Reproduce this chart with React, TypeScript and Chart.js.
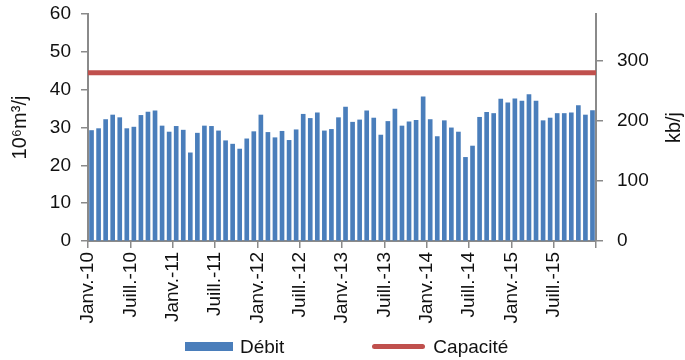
import React, { useEffect, useRef } from "react";
import { Chart, registerables } from "chart.js";

Chart.register(...registerables);

const tickLabels = [
  "Janv.-10", "Juill.-10", "Janv.-11", "Juill.-11", "Janv.-12", "Juill.-12",
  "Janv.-13", "Juill.-13", "Janv.-14", "Juill.-14", "Janv.-15", "Juill.-15",
];

const debit2010 = [29.2, 29.7, 32.1, 33.3, 32.6, 29.7, 30.1, 33.2, 34.1, 34.4, 30.4, 28.8];
const debit2011 = [30.3, 29.3, 23.3, 28.5, 30.4, 30.3, 29.1, 26.5, 25.6, 24.3, 27.0, 28.9];
const debit2012 = [33.3, 28.7, 27.3, 29.0, 26.6, 29.4, 33.5, 32.4, 33.9, 29.1, 29.5, 32.6];
const debit2013 = [35.4, 31.4, 32.0, 34.4, 32.5, 28.0, 31.6, 34.9, 30.4, 31.5, 31.9, 38.1];
const debit2014 = [32.1, 27.6, 31.8, 29.9, 28.8, 22.1, 25.1, 32.7, 34.0, 33.7, 37.5, 36.5];
const debit2015 = [37.6, 37.0, 38.7, 37.0, 31.8, 32.5, 33.7, 33.7, 33.9, 35.8, 33.3, 34.5];

const debit = [...debit2010, ...debit2011, ...debit2012, ...debit2013, ...debit2014, ...debit2015];
const capacite = 44.5; // 10^6 m3/j
const m3ToKb = 6.29;
const leftMax = 60;

const FONT = '"Liberation Sans", Arial, sans-serif';
const GREY = "#8a8a8a";
const BLUE = "#4a7ebb";
const RED = "#c0504d";

const rightTitlePlugin = {
  id: "rightTitle",
  afterDraw(chart: any) {
    const s = chart.scales.y1;
    if (!s) return;
    const ctx = chart.ctx;
    ctx.save();
    ctx.font = `20px ${FONT}`;
    ctx.fillStyle = "#111";
    ctx.translate(s.right - 11, (s.top + s.bottom) / 2);
    ctx.rotate(-Math.PI / 2);
    ctx.textAlign = "center";
    ctx.textBaseline = "middle";
    ctx.fillText("kb/j", 0, 0);
    ctx.restore();
  },
};

export default function App() {
  const ref = useRef<HTMLCanvasElement>(null);

  useEffect(() => {
    if (!ref.current) return;
    const n = debit.length;
    const chart = new Chart(ref.current, {
      type: "bar",
      data: {
        datasets: [
          {
            label: "Débit",
            data: debit.map((v, i) => ({ x: i + 0.5, y: v })),
            backgroundColor: BLUE,
            barThickness: 4,
            yAxisID: "y",
            xAxisID: "x",
            order: 2,
          } as any,
          {
            type: "line",
            label: "Capacité",
            data: [
              { x: 0, y: capacite },
              { x: n, y: capacite },
            ],
            borderColor: RED,
            backgroundColor: RED,
            borderWidth: 5,
            pointRadius: 0,
            yAxisID: "y",
            xAxisID: "x",
            order: 1,
          } as any,
        ],
      },
      options: {
        responsive: false,
        animation: false,
        devicePixelRatio: 1,
        layout: { padding: { top: 14, left: 0, right: 0, bottom: 24 } },
        plugins: {
          legend: { display: false },
          tooltip: { enabled: false },
        },
        scales: {
          x: {
            type: "linear",
            min: 0,
            max: n,
            offset: false,
            afterFit: (s: any) => {
              s.height = 95;
            },
            grid: {
              offset: false,
              drawOnChartArea: false,
              drawTicks: true,
              tickLength: 7,
              color: GREY,
              lineWidth: 1.5,
            },
            border: { display: true, color: GREY, width: 2 },
            ticks: {
              stepSize: 6,
              autoSkip: false,
              minRotation: 90,
              maxRotation: 90,
              padding: 4,
              color: "#111",
              font: { family: FONT, size: 19 },
              callback: (v: any) => {
                const k = Math.round(Number(v) / 6);
                return tickLabels[k] ?? "";
              },
            },
          } as any,
          y: {
            type: "linear",
            position: "left",
            min: 0,
            max: leftMax,
            afterFit: (s: any) => {
              s.width = 88;
              s.paddingTop = 0;
              s.paddingBottom = 0;
            },
            grid: {
              drawOnChartArea: false,
              drawTicks: true,
              tickLength: 7,
              color: GREY,
              lineWidth: 1.5,
            },
            border: { display: true, color: GREY, width: 2 },
            ticks: {
              stepSize: 10,
              padding: 10,
              color: "#111",
              font: { family: FONT, size: 19 },
            },
            title: {
              display: true,
              text: "10⁶m³/j",
              color: "#111",
              font: { family: FONT, size: 20 },
              padding: { top: 8, bottom: 0 },
            },
          } as any,
          y1: {
            type: "linear",
            position: "right",
            min: 0,
            max: leftMax * m3ToKb,
            afterFit: (s: any) => {
              s.width = 89;
              s.paddingTop = 0;
              s.paddingBottom = 0;
            },
            grid: {
              drawOnChartArea: false,
              drawTicks: true,
              tickLength: 7,
              color: GREY,
              lineWidth: 1.5,
            },
            border: { display: true, color: GREY, width: 2 },
            ticks: {
              stepSize: 100,
              includeBounds: false,
              padding: 14,
              color: "#111",
              font: { family: FONT, size: 19 },
            },
          } as any,
        },
      },
      plugins: [rightTitlePlugin],
    });
    return () => chart.destroy();
  }, []);

  const textStyle: React.CSSProperties = {
    fontFamily: FONT,
    fontSize: 19,
    color: "#111",
    lineHeight: "20px",
  };

  return (
    <div style={{ position: "fixed", left: 0, top: 0, width: 685, height: 360, background: "#fff" }}>
      <canvas ref={ref} width={685} height={360} style={{ display: "block" }} />
      <div
        style={{
          position: "absolute",
          left: 185,
          top: 336,
          height: 21,
          display: "flex",
          alignItems: "center",
        }}
      >
        <div style={{ display: "flex", alignItems: "center" }}>
          <span style={{ display: "inline-block", width: 48, height: 9, background: BLUE }} />
          <span style={{ ...textStyle, marginLeft: 7 }}>Débit</span>
        </div>
        <div style={{ display: "flex", alignItems: "center", marginLeft: 88 }}>
          <span
            style={{ display: "inline-block", width: 53, height: 5, background: RED, borderRadius: 2.5 }}
          />
          <span style={{ ...textStyle, marginLeft: 8 }}>Capacité</span>
        </div>
      </div>
    </div>
  );
}
